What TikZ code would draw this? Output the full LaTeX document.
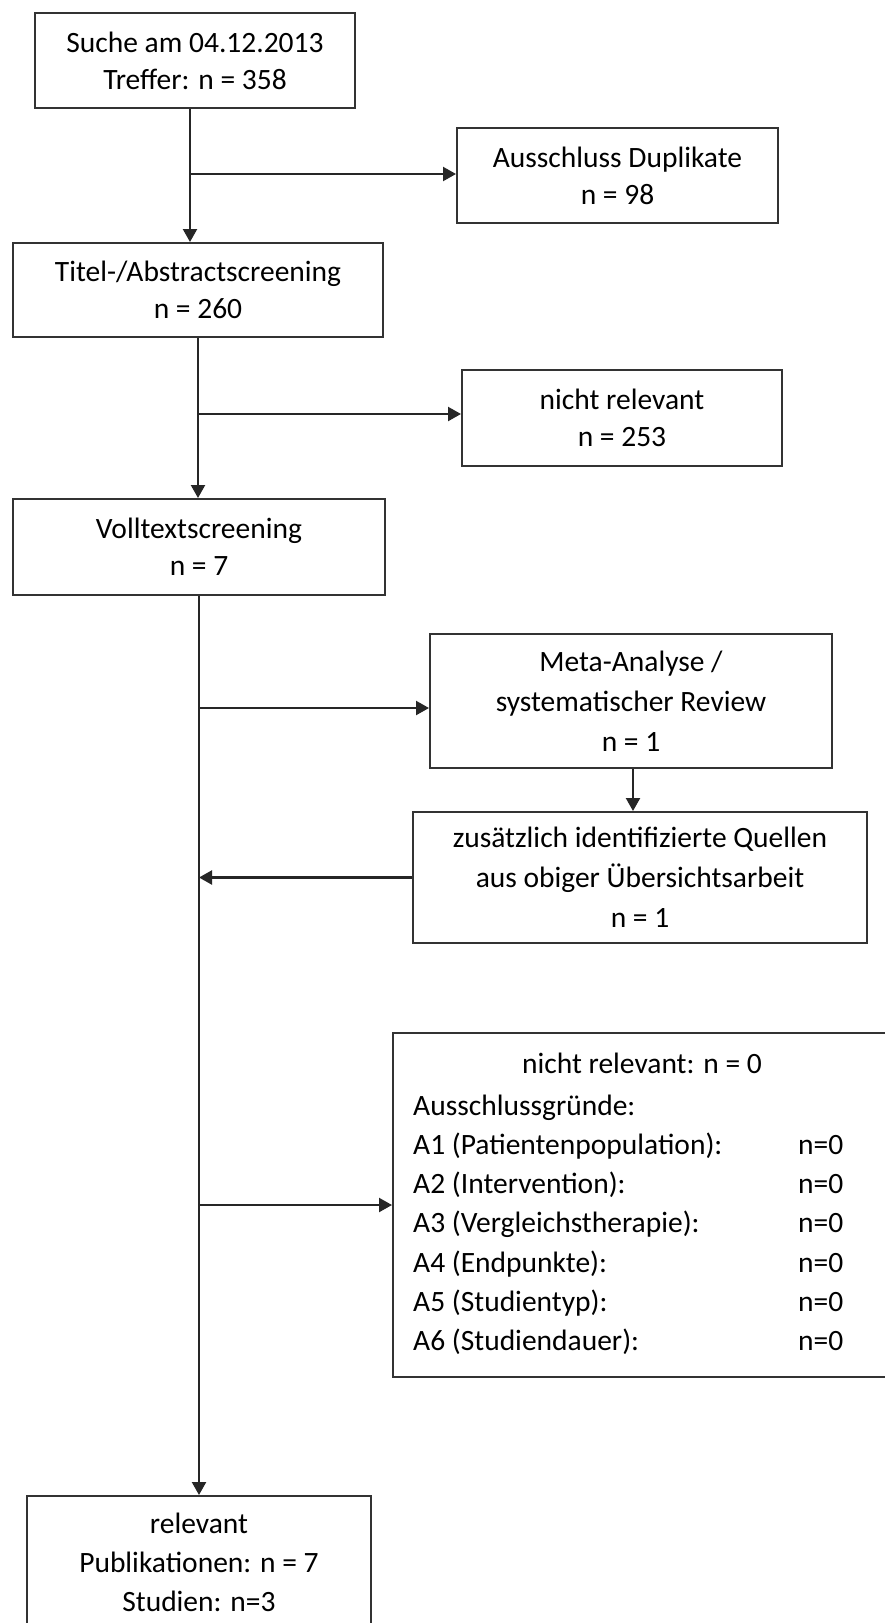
\documentclass[tikz,border=0pt]{standalone}
\usepackage{fontspec}
\setmainfont{Carlito}
\usetikzlibrary{arrows.meta}
\begin{document}
\begin{tikzpicture}[x=1pt,y=-1pt,
  box/.style={draw=black!80, line width=2pt, align=center, inner sep=0pt, fill=white,
    font=\fontsize{29.5}{37}\selectfont},
  box3/.style={box, font=\fontsize{29.5}{40}\selectfont},
  arr/.style={draw=black!85, line width=2.2pt, -{Triangle[length=13pt,width=14pt]}},
  txt/.style={inner sep=0pt, font=\fontsize{29.5}{37}\selectfont},
]
\useasboundingbox[fill=white] (0,0) rectangle (884,1623);

% boxes
\node[box, minimum width=320pt, minimum height=95pt] (search) at (195,60.5)
  {Suche am 04.12.2013\\Treffer: n = 358};
\node[box, minimum width=321pt, minimum height=95pt] (dup) at (617.5,175.5)
  {Ausschluss Duplikate\\n = 98};
\node[box, minimum width=370pt, minimum height=94pt] (title) at (198,290)
  {Titel-/Abstractscreening\\n = 260};
\node[box, minimum width=320pt, minimum height=96pt] (nrel) at (622,418)
  {nicht relevant\\n = 253};
\node[box, minimum width=372pt, minimum height=96pt] (full) at (199,547)
  {Volltextscreening\\n = 7};
\node[box3, minimum width=402pt, minimum height=134pt] (meta) at (631,701)
  {Meta-Analyse /\\systematischer Review\\n = 1};
\node[box3, minimum width=454pt, minimum height=131pt] (add) at (640,877.5)
  {zusätzlich identifizierte Quellen\\aus obiger Übersichtsarbeit\\n = 1};
\node[box, minimum width=498pt, minimum height=344pt] (excl) at (642,1205) {};
\node[box, minimum width=344pt, minimum height=132pt, font=\fontsize{29.5}{39}\selectfont] (rel) at (199,1562)
  {relevant\\Publikationen: n = 7\\Studien: n=3};

% exclusion reasons text
\node[txt, anchor=base] (et) at (642,1073) {nicht relevant: n = 0};
\node[txt, anchor=base west] (e0) at (413,1115) {Ausschlussgründe:};
\node[txt, anchor=base west] (e1) at (413,1154) {A1 (Patientenpopulation):};
\node[txt, anchor=base west] (e2) at (413,1193) {A2 (Intervention):};
\node[txt, anchor=base west] (e3) at (413,1232) {A3 (Vergleichstherapie):};
\node[txt, anchor=base west] (e4) at (413,1272) {A4 (Endpunkte):};
\node[txt, anchor=base west] (e5) at (413,1311) {A5 (Studientyp):};
\node[txt, anchor=base west] (e6) at (413,1350) {A6 (Studiendauer):};
\node[txt, anchor=base west] (n1) at (798,1154) {n=0};
\node[txt, anchor=base west] (n2) at (798,1193) {n=0};
\node[txt, anchor=base west] (n3) at (798,1232) {n=0};
\node[txt, anchor=base west] (n4) at (798,1272) {n=0};
\node[txt, anchor=base west] (n5) at (798,1311) {n=0};
\node[txt, anchor=base west] (n6) at (798,1350) {n=0};

% connector end points
\coordinate (sout) at ([xshift=-5pt]search.south);
\coordinate (dupin) at ([yshift=1.5pt]dup.west);
\coordinate (nrelin) at ([yshift=4pt]nrel.west);
\coordinate (metain) at ([yshift=-7pt]meta.west);
\coordinate (metaout) at ([xshift=2pt]meta.south);

% connectors
\draw[arr] (sout) -- (sout |- title.north);
\draw[arr] (sout |- dupin) -- (dupin);
\draw[arr] (title.south) -- (title.south |- full.north);
\draw[arr] (title.south |- nrelin) -- (nrelin);
\draw[arr] (full.south) -- (full.south |- rel.north);
\draw[arr] (full.south |- metain) -- (metain);
\draw[arr] (metaout) -- (metaout |- add.north);
\draw[arr] (add.west) -- (full.south |- add.west);
\draw[arr] (full.south |- excl.west) -- (excl.west);
\end{tikzpicture}
\end{document}
